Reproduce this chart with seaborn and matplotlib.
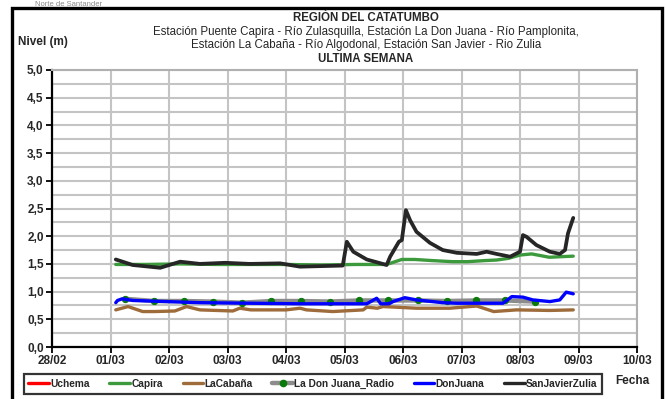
import numpy as np
import pandas as pd
import matplotlib
matplotlib.use("Agg")
import matplotlib.pyplot as plt
import matplotlib.dates as mdates
from matplotlib.lines import Line2D
from matplotlib.patches import Rectangle
from matplotlib.ticker import MultipleLocator, FuncFormatter
import seaborn as sns

sns.set_style("white")
plt.rcParams["font.family"] = ["Liberation Sans", "DejaVu Sans"]

# Origin of the time axis; time stamps below are days since this date
START = pd.Timestamp("2023-02-28")

# Uchema: no readings during the week
uchema_t = []
uchema_v = []

capira_t = [1.09, 1.60, 2.20, 2.80, 3.40, 4.00, 4.60, 5.20, 5.70, 5.78, 5.98, 6.20,
            6.50, 6.85, 7.10, 7.40, 7.60, 7.80, 8.00, 8.20, 8.50, 8.70, 8.91]
capira_v = [1.49, 1.49, 1.50, 1.49, 1.49, 1.49, 1.48, 1.49, 1.49, 1.51, 1.58, 1.58,
            1.56, 1.54, 1.54, 1.56, 1.57, 1.60, 1.66, 1.68, 1.62, 1.63, 1.64]

cabana_t = [1.09, 1.30, 1.55, 1.75, 2.10, 2.30, 2.53, 3.09, 3.21, 3.40, 4.00, 4.24,
            4.35, 4.80, 5.32, 5.38, 5.56, 5.66, 6.23, 6.80, 7.26, 7.55, 7.94, 8.51, 8.91]
cabana_v = [0.67, 0.73, 0.64, 0.64, 0.65, 0.73, 0.67, 0.65, 0.70, 0.67, 0.67, 0.70,
            0.67, 0.64, 0.67, 0.72, 0.70, 0.73, 0.70, 0.70, 0.74, 0.64, 0.67, 0.66, 0.67]

radio_t = [1.25, 1.75, 2.25, 2.75, 3.25, 3.75, 4.25, 4.75, 5.25, 5.75,
           6.25, 6.75, 7.25, 7.75, 8.25]
radio_v = [0.87, 0.83, 0.83, 0.82, 0.80, 0.83, 0.83, 0.82, 0.84, 0.84,
           0.84, 0.83, 0.84, 0.84, 0.82]

donjuana_t = [1.09, 1.12, 1.20, 1.38, 2.53, 4.24, 5.38, 5.55, 5.62, 5.76, 5.83, 6.03,
              6.23, 6.68, 6.92, 7.71, 7.86, 8.05, 8.22, 8.51, 8.68, 8.79, 8.91]
donjuana_v = [0.80, 0.84, 0.87, 0.84, 0.80, 0.78, 0.78, 0.88, 0.78, 0.78, 0.82, 0.89,
              0.85, 0.80, 0.79, 0.79, 0.91, 0.90, 0.85, 0.82, 0.85, 0.99, 0.96]

sanjavier_t = [1.09, 1.38, 1.85, 2.19, 2.53, 2.96, 3.38, 3.90, 4.24, 4.97, 5.04, 5.15,
               5.38, 5.72, 5.78, 5.93, 5.98, 6.05, 6.12, 6.23, 6.46, 6.68, 6.92, 7.26,
               7.43, 7.60, 7.83, 8.00, 8.05, 8.11, 8.28, 8.51, 8.68, 8.77, 8.82, 8.91]
sanjavier_v = [1.58, 1.48, 1.43, 1.54, 1.50, 1.52, 1.50, 1.51, 1.45, 1.47, 1.90, 1.72,
               1.58, 1.48, 1.63, 1.90, 1.93, 2.47, 2.29, 2.08, 1.88, 1.75, 1.70, 1.68,
               1.72, 1.68, 1.63, 1.72, 2.02, 1.99, 1.84, 1.72, 1.68, 1.75, 2.05, 2.33]

date_labels = ["28/02", "01/03", "02/03", "03/03", "04/03", "05/03",
               "06/03", "07/03", "08/03", "09/03", "10/03"]

colors = {
    "Uchema": "#ff0000",
    "Capira": "#3c9a3c",
    "LaCabaña": "#9e6b3a",
    "La Don Juana_Radio": "#8c8c8c",
    "DonJuana": "#0000ff",
    "SanJavierZulia": "#262626",
}


def to_frame(days, values):
    return pd.DataFrame({
        "fecha": START + pd.to_timedelta(np.asarray(days, dtype=float), unit="D"),
        "nivel": np.asarray(values, dtype=float),
    })


def date_label(v, pos):
    i = int(round(v - mdates.date2num(START)))
    return date_labels[i] if 0 <= i < len(date_labels) else ""


fig = plt.figure(figsize=(6.66, 3.99), dpi=100)
ax = fig.add_axes([52 / 666, 52 / 399, 585 / 666, 277 / 399])

grid_c = "#c4c4c4"
ax.set_axisbelow(True)

sns.lineplot(data=to_frame(capira_t, capira_v), x="fecha", y="nivel", ax=ax,
             color=colors["Capira"], lw=2.4)
sns.lineplot(data=to_frame(cabana_t, cabana_v), x="fecha", y="nivel", ax=ax,
             color=colors["LaCabaña"], lw=2.4)
sns.lineplot(data=to_frame(radio_t, radio_v), x="fecha", y="nivel", ax=ax,
             color=colors["La Don Juana_Radio"], lw=3.2, marker="o", markersize=4.5,
             markerfacecolor="#0a7a0a", markeredgecolor="#0a7a0a")
sns.lineplot(data=to_frame(donjuana_t, donjuana_v), x="fecha", y="nivel", ax=ax,
             color=colors["DonJuana"], lw=2.4)
sns.lineplot(data=to_frame(sanjavier_t, sanjavier_v), x="fecha", y="nivel", ax=ax,
             color=colors["SanJavierZulia"], lw=2.7)

ax.set_xlim(START, START + pd.Timedelta(days=10))
ax.set_ylim(0, 5)
ax.xaxis.set_major_locator(mdates.DayLocator())
ax.xaxis.set_major_formatter(FuncFormatter(date_label))
ax.yaxis.set_major_locator(MultipleLocator(0.5))
ax.yaxis.set_minor_locator(MultipleLocator(0.25))
ax.yaxis.set_major_formatter(FuncFormatter(lambda v, p: f"{v:.1f}".replace(".", ",")))

ax.grid(True, which="major", axis="both", color=grid_c, lw=1.5)
ax.grid(True, which="minor", axis="y", color=grid_c, lw=1.5)
ax.tick_params(axis="both", which="major", direction="out", length=4, width=1.3,
               color="black", labelsize=8.5, pad=2)
ax.tick_params(axis="y", which="minor", length=0)
ax.tick_params(axis="y", which="major", left=True)
ax.tick_params(axis="x", which="major", bottom=True)
for lab in ax.get_xticklabels() + ax.get_yticklabels():
    lab.set_fontweight("bold")
ax.set_xlabel("")
ax.set_ylabel("")

for side in ("left", "bottom"):
    ax.spines[side].set_color("black")
    ax.spines[side].set_linewidth(1.6)
for side in ("top", "right"):
    ax.spines[side].set_color("#b0b0b0")
    ax.spines[side].set_linewidth(1.5)

# Outer chart frame
fig.patches.append(Rectangle((12 / 666, -0.05), 650 / 666, 1.05 - 8.5 / 399,
                             transform=fig.transFigure, fill=False,
                             edgecolor="black", lw=2.4, clip_on=False))

# Page header above the frame
fig.text(35 / 666, 1 - 0.5 / 399, "Norte de Santander", fontsize=5.5,
         color="#8a8a8a", ha="left", va="top")

cx = 366 / 666
fig.text(cx, 1 - 18 / 399, "REGIÓN DEL CATATUMBO", ha="center", va="center",
         fontsize=8.3, fontweight="bold")
fig.text(cx, 1 - 31.5 / 399,
         "Estación Puente Capira - Río Zulasquilla, Estación La Don Juana - Río Pamplonita,",
         ha="center", va="center", fontsize=8.3)
fig.text(cx, 1 - 45 / 399,
         "Estación La Cabaña - Río Algodonal, Estación San Javier - Rio Zulia",
         ha="center", va="center", fontsize=8.3)
fig.text(cx, 1 - 58.5 / 399, "ULTIMA SEMANA", ha="center", va="center",
         fontsize=8.3, fontweight="bold")
fig.text(18 / 666, 1 - 42 / 399, "Nivel (m)", ha="left", va="center",
         fontsize=8.5, fontweight="bold")
fig.text(632 / 666, 1 - 381 / 399, "Fecha", ha="center", va="center",
         fontsize=8.5, fontweight="bold")

names = ["Uchema", "Capira", "LaCabaña", "La Don Juana_Radio", "DonJuana", "SanJavierZulia"]
handles = []
for n in names:
    if n == "La Don Juana_Radio":
        handles.append(Line2D([], [], color=colors[n], lw=3.2, marker="o", markersize=4.5,
                              markerfacecolor="#0a7a0a", markeredgecolor="#0a7a0a"))
    else:
        handles.append(Line2D([], [], color=colors[n], lw=2.4))
leg = fig.legend(handles, names, loc="center", bbox_to_anchor=(313 / 666, 1 - 384 / 399),
                 ncol=6, frameon=True, fancybox=False, edgecolor="black",
                 prop={"weight": "bold", "size": 7.3}, handlelength=2.0,
                 handletextpad=0.15, columnspacing=1.95, borderpad=0.45)
leg.get_frame().set_linewidth(1.6)

fig.savefig("out.png", dpi=100)
